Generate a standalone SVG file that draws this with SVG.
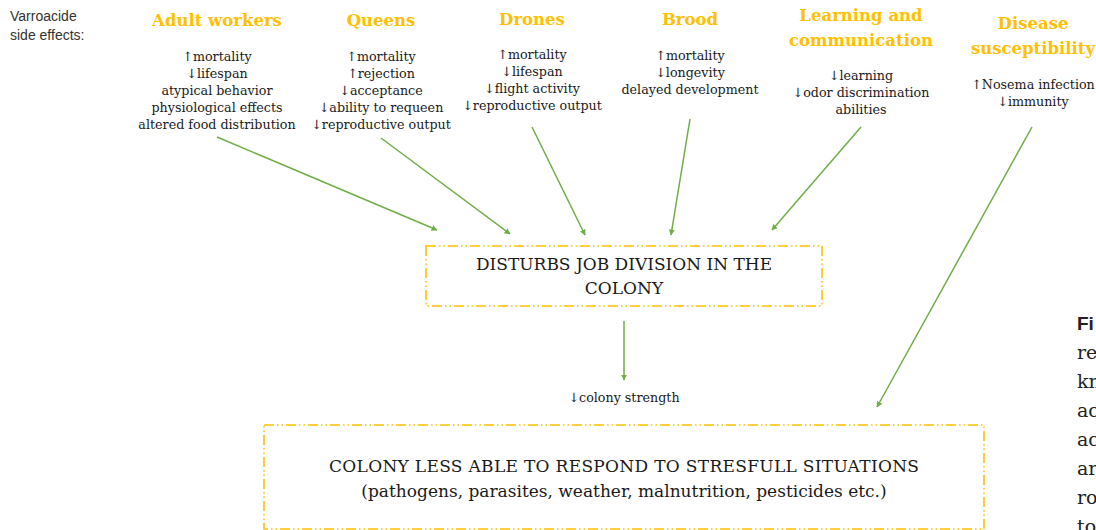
<svg xmlns="http://www.w3.org/2000/svg" width="1096" height="530" viewBox="0 0 1096 530">
<defs>
<style>
.hd{font-family:"DejaVu Serif","Liberation Serif",serif;font-weight:bold;font-size:16.5px;fill:#FFC000;text-anchor:middle}
.bd{font-family:"DejaVu Serif","Liberation Serif",serif;font-size:12.7px;fill:#1a1a1a;text-anchor:middle}
.bx{font-family:"DejaVu Serif","Liberation Serif",serif;font-size:17px;fill:#1a1a1a;text-anchor:middle}
.lbl{font-family:"Liberation Sans",Arial,sans-serif;font-size:14px;fill:#333}
.box{fill:none;stroke:#FFC000;stroke-width:1.6;stroke-dasharray:10 3 1.5 3 1.5 3}
.arr{fill:none;stroke:#70AD47;stroke-width:1.5;marker-end:url(#ah)}
.cap{font-family:"DejaVu Serif","Liberation Serif",serif;font-size:19px;fill:#222}
</style>
<marker id="ah" viewBox="0 0 10 10" refX="9" refY="5" markerWidth="6" markerHeight="6" markerUnits="userSpaceOnUse" orient="auto"><path d="M0,0 L10,5 L0,10 z" fill="#70AD47"/></marker>
</defs>
<rect width="1096" height="530" fill="#fff"/>

<g id="label">
<text class="lbl" x="10" y="21">Varroacide</text>
<text class="lbl" x="10" y="40">side effects:</text>
</g>

<g id="adult-workers">
<text class="hd" x="217" y="26">Adult workers</text>
<text class="bd" x="217" y="61">↑mortality</text>
<text class="bd" x="217" y="78">↓lifespan</text>
<text class="bd" x="217" y="95">atypical behavior</text>
<text class="bd" x="217" y="112">physiological effects</text>
<text class="bd" x="217" y="129">altered food distribution</text>
</g>

<g id="queens">
<text class="hd" x="381" y="26">Queens</text>
<text class="bd" x="381" y="61">↑mortality</text>
<text class="bd" x="381" y="78">↑rejection</text>
<text class="bd" x="381" y="95">↓acceptance</text>
<text class="bd" x="381" y="112">↓ability to requeen</text>
<text class="bd" x="381" y="129">↓reproductive output</text>
</g>

<g id="drones">
<text class="hd" x="532" y="25">Drones</text>
<text class="bd" x="532" y="59">↑mortality</text>
<text class="bd" x="532" y="76">↓lifespan</text>
<text class="bd" x="532" y="93">↓flight activity</text>
<text class="bd" x="532" y="110">↓reproductive output</text>
</g>

<g id="brood">
<text class="hd" x="690" y="25">Brood</text>
<text class="bd" x="690" y="60">↑mortality</text>
<text class="bd" x="690" y="77">↓longevity</text>
<text class="bd" x="690" y="94">delayed development</text>
</g>

<g id="learning">
<text class="hd" x="861" y="21">Learning and</text>
<text class="hd" x="861" y="46">communication</text>
<text class="bd" x="861" y="80">↓learning</text>
<text class="bd" x="861" y="97">↓odor discrimination</text>
<text class="bd" x="861" y="114">abilities</text>
</g>

<g id="disease">
<text class="hd" x="1033" y="29">Disease</text>
<text class="hd" x="1033" y="54">susceptibility</text>
<text class="bd" x="1033" y="89">↑Nosema infection</text>
<text class="bd" x="1033" y="106">↓immunity</text>
</g>

<g id="job-division">
<rect class="box" x="426" y="246" width="396" height="60"/>
<text class="bx" x="624" y="270">DISTURBS JOB DIVISION IN THE</text>
<text class="bx" x="624" y="294">COLONY</text>
</g>

<g id="colony-strength">
<text class="bd" x="624" y="402">↓colony strength</text>
</g>

<g id="less-able">
<rect class="box" x="264" y="425" width="720" height="104"/>
<text class="bx" x="624" y="472" textLength="590">COLONY LESS ABLE TO RESPOND TO STRESFULL SITUATIONS</text>
<text class="bx" x="624" y="497">(pathogens, parasites, weather, malnutrition, pesticides etc.)</text>
</g>

<g id="caption">
<text x="1077" y="330" style="font-family:'Liberation Sans',Arial,sans-serif;font-weight:bold;font-size:19px;fill:#222">Fi</text>
<text class="cap" x="1077" y="359">re</text>
<text class="cap" x="1077" y="388">kn</text>
<text class="cap" x="1077" y="417">ac</text>
<text class="cap" x="1077" y="446">ac</text>
<text class="cap" x="1077" y="475">ar</text>
<text class="cap" x="1077" y="504">ro</text>
<text class="cap" x="1077" y="533">to</text>
</g>

<g id="connectors">
<line class="arr" x1="217" y1="137" x2="437" y2="230"/>
<line class="arr" x1="381" y1="138" x2="510" y2="234"/>
<line class="arr" x1="532" y1="127" x2="585" y2="235"/>
<line class="arr" x1="690" y1="119" x2="671" y2="235"/>
<line class="arr" x1="861" y1="127" x2="772" y2="230"/>
<line class="arr" x1="1032" y1="127" x2="877" y2="407"/>
<line class="arr" x1="624" y1="321" x2="624" y2="380"/>
</g>
</svg>
